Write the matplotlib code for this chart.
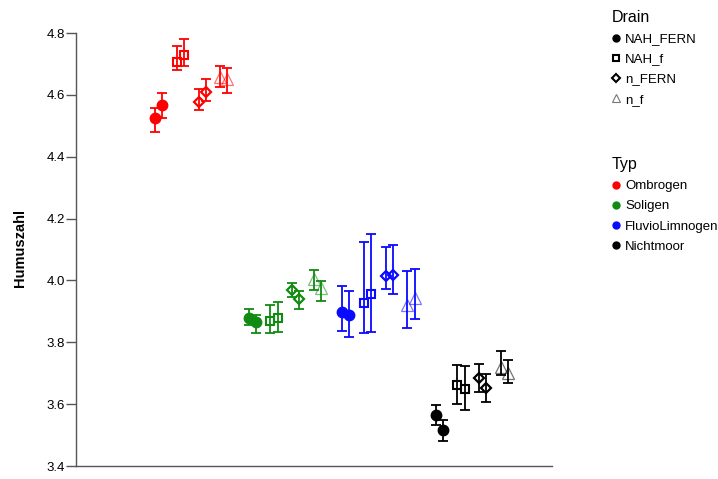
import matplotlib
matplotlib.use("Agg")
import matplotlib.pyplot as plt
from matplotlib.lines import Line2D
import numpy as np

plt.rcParams['font.family'] = ['Liberation Sans', 'DejaVu Sans']

types = ['Ombrogen', 'Soligen', 'FluvioLimnogen', 'Nichtmoor']
type_colors = ['#ff0000', '#118a11', '#0a0aff', '#000000']
drains = ['NAH_FERN', 'NAH_f', 'n_FERN', 'n_f']

# values per type: 8 points = 4 drains x 2 subgroups
# order: NAH_FERN a/b, NAH_f a/b, n_FERN a/b, n_f a/b
mean_ombrogen = [4.524, 4.566, 4.707, 4.729, 4.578, 4.608, 4.657, 4.650]
low_ombrogen = [4.481, 4.524, 4.680, 4.693, 4.551, 4.580, 4.626, 4.607]
high_ombrogen = [4.557, 4.605, 4.758, 4.780, 4.618, 4.650, 4.693, 4.686]

mean_soligen = [3.880, 3.865, 3.870, 3.878, 3.969, 3.940, 4.005, 3.975]
low_soligen = [3.856, 3.831, 3.829, 3.834, 3.946, 3.907, 3.969, 3.935]
high_soligen = [3.908, 3.888, 3.921, 3.931, 3.993, 3.967, 4.034, 3.999]

mean_fluvio = [3.898, 3.887, 3.926, 3.955, 4.013, 4.017, 3.921, 3.943]
low_fluvio = [3.837, 3.818, 3.829, 3.833, 3.972, 3.957, 3.847, 3.875]
high_fluvio = [3.982, 3.965, 4.123, 4.149, 4.109, 4.114, 4.031, 4.037]

mean_nicht = [3.565, 3.517, 3.662, 3.649, 3.684, 3.651, 3.719, 3.700]
low_nicht = [3.533, 3.481, 3.601, 3.581, 3.638, 3.606, 3.694, 3.669]
high_nicht = [3.598, 3.549, 3.727, 3.724, 3.729, 3.697, 3.773, 3.743]

means = [mean_ombrogen, mean_soligen, mean_fluvio, mean_nicht]
lows = [low_ombrogen, low_soligen, low_fluvio, low_nicht]
highs = [high_ombrogen, high_soligen, high_fluvio, high_nicht]

drain_markers = ['o', 's', 'D', '^']

fig = plt.figure(figsize=(7.18, 4.79), dpi=100)
ax = fig.add_axes([0.1058, 0.0271, 0.663, 0.9104])

for t in range(4):
    col = type_colors[t]
    for d in range(4):
        for k in range(2):
            i = d * 2 + k
            x = t * 4.3 + d + (-0.165 if k == 0 else 0.165)
            y = means[t][i]
            yerr = [[y - lows[t][i]], [highs[t][i] - y]]
            mk = drain_markers[d]
            if mk == 'o':
                kw = dict(marker='o', markersize=7.5, markerfacecolor=col, markeredgecolor=col)
            elif mk == 's':
                kw = dict(marker='s', markersize=6, markerfacecolor='none', markeredgecolor=col, markeredgewidth=1.5)
            elif mk == 'D':
                kw = dict(marker='D', markersize=5.5, markerfacecolor='none', markeredgecolor=col, markeredgewidth=1.6)
            else:
                kw = dict(marker='^', markersize=8, markerfacecolor='none', markeredgecolor=col, markeredgewidth=0.9, alpha=0.55)
            ax.plot(x, y, linestyle='none', zorder=2, **kw)
            ax.errorbar(x, y, yerr=yerr, fmt='none', capsize=3.3, elinewidth=1.3, capthick=1.3, ecolor=col, zorder=3)

ax.set_xlim(-3.80, 18.08)
ax.set_ylim(3.4, 4.81)
ax.set_yticks([3.4, 3.6, 3.8, 4.0, 4.2, 4.4, 4.6, 4.8])
ax.set_yticklabels(['3.4', '3.6', '3.8', '4.0', '4.2', '4.4', '4.6', '4.8'])
ax.set_xticks([])
for s in ['top', 'right']:
    ax.spines[s].set_visible(False)
for s in ['left', 'bottom']:
    ax.spines[s].set_color('#555555')
    ax.spines[s].set_linewidth(1.0)
ax.spines['left'].set_bounds(3.4, 4.8)
ax.tick_params(axis='y', direction='out', length=7, width=1.0, color='#555555', labelsize=9.5, pad=1)
ax.set_ylabel('Humuszahl', fontsize=10.5, fontweight='bold', labelpad=14)

# legends
drain_handles = [
    Line2D([], [], marker='o', linestyle='none', markersize=5, color='black'),
    Line2D([], [], marker='s', linestyle='none', markersize=5, markerfacecolor='none', markeredgecolor='black', markeredgewidth=1.5),
    Line2D([], [], marker='D', linestyle='none', markersize=4.5, markerfacecolor='none', markeredgecolor='black', markeredgewidth=1.5),
    Line2D([], [], marker='^', linestyle='none', markersize=6, markerfacecolor='none', markeredgecolor='#777777', markeredgewidth=0.8),
]
leg1 = fig.legend(drain_handles, drains, title='Drain', loc='upper left', bbox_to_anchor=(0.845, 0.99),
                  frameon=False, fontsize=9.5, title_fontsize=11.5, handlelength=0.6, handletextpad=0.4,
                  labelspacing=0.6, alignment='left', borderaxespad=0)
type_handles = [Line2D([], [], marker='o', linestyle='none', markersize=5, color=c) for c in type_colors]
leg2 = fig.legend(type_handles, types, title='Typ', loc='upper left', bbox_to_anchor=(0.845, 0.683),
                  frameon=False, fontsize=9.5, title_fontsize=11.5, handlelength=0.6, handletextpad=0.4,
                  labelspacing=0.6, alignment='left', borderaxespad=0)

fig.savefig('out.png', dpi=100)
